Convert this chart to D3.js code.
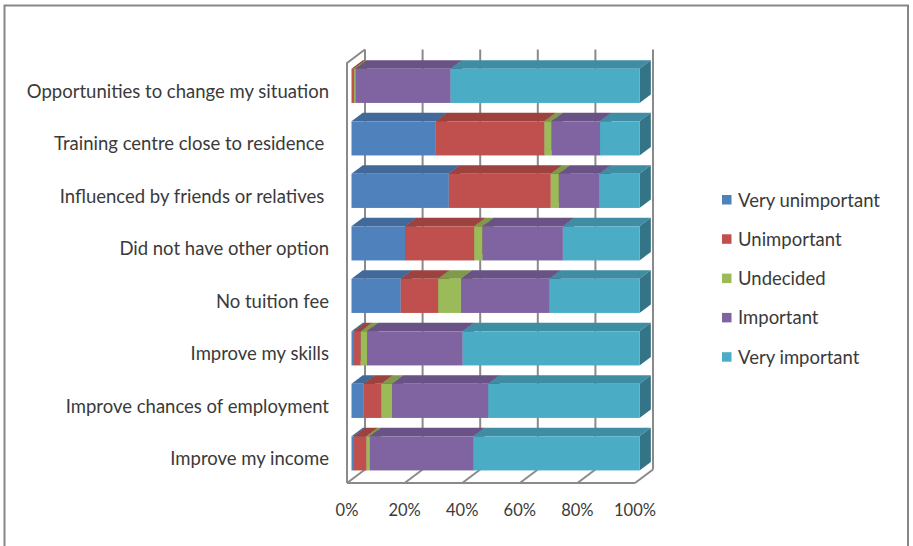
<!DOCTYPE html>
<html>
<head>
<meta charset="utf-8">
<script src="https://cdn.jsdelivr.net/npm/d3@7"></script>
<style>
  html, body { margin: 0; padding: 0; background: #fff; }
  svg { display: block; }
  text { font-family: Lato, "Open Sans", sans-serif; fill: #3a3a3a; }
</style>
</head>
<body>
<svg id="chart" width="913" height="546"></svg>
<script>
// Reasons for enrolling — share of responses per importance level (%)
const categories = [
  "Opportunities to change my situation",
  "Training centre close to residence ",
  "Influenced by friends or relatives ",
  "Did not have other option",
  "No tuition fee",
  "Improve my skills",
  "Improve chances of employment",
  "Improve my income"
];
const seriesNames = ["Very unimportant", "Unimportant", "Undecided", "Important", "Very important"];
const veryUnimportant = [0.0, 29.3, 33.8, 18.6, 17.1, 0.9, 4.3, 0.9];
const unimportant     = [0.9, 37.7, 35.4, 24.0, 13.0, 2.3, 6.1, 4.3];
const undecided       = [0.6,  2.5,  2.8,  2.9,  7.9, 2.2, 3.7, 1.2];
const important       = [32.9, 16.8, 14.1, 27.9, 30.7, 33.2, 33.4, 35.9];
const veryImportant   = [65.6, 13.7, 13.9, 26.6, 31.3, 61.4, 52.5, 57.7];
const tickLabels = ["0%", "20%", "40%", "60%", "80%", "100%"];
const tickValues = [0, 20, 40, 60, 80, 100];

const colors = ["#4F81BD", "#C0504D", "#9BBB59", "#8064A2", "#4BACC6"];

const rows = categories.map((c, i) => ({
  category: c,
  "Very unimportant": veryUnimportant[i],
  "Unimportant": unimportant[i],
  "Undecided": undecided[i],
  "Important": important[i],
  "Very important": veryImportant[i]
}));
const stacked = d3.stack().keys(seriesNames)(rows);

const svg = d3.select("#chart");

// Outer chart border
svg.append("rect")
  .attr("x", 4.5).attr("y", 5.5).attr("width", 903.5).attr("height", 560)
  .attr("fill", "none").attr("stroke", "#878787").attr("stroke-width", 2);

// Front plane of the 3D plot box, plus depth vector to the back wall
const front = { left: 347, right: 635, top: 63, bottom: 483 };
const depth = { dx: 18, dy: -13.5 };
const barDepthStart = 0.25, barDepthEnd = 0.88;

const x = d3.scaleLinear().domain([0, 100]).range([front.left, front.right]);
const y = d3.scaleBand().domain(categories)
  .range([front.top, front.bottom]).paddingInner(0.35).paddingOuter(0.175);

const gridColor = "#8a8a8a";
const grid = svg.append("g").attr("stroke", gridColor).attr("stroke-width", 2).attr("fill", "none");

// Back wall vertical gridlines
tickValues.forEach(v => {
  grid.append("line")
    .attr("x1", x(v) + depth.dx).attr("x2", x(v) + depth.dx)
    .attr("y1", front.top + depth.dy).attr("y2", front.bottom + depth.dy);
});
// Floor diagonals at each tick
tickValues.forEach(v => {
  grid.append("line")
    .attr("x1", x(v)).attr("y1", front.bottom)
    .attr("x2", x(v) + depth.dx).attr("y2", front.bottom + depth.dy);
});
// Floor front edge
grid.append("line")
  .attr("x1", x(0)).attr("x2", x(100))
  .attr("y1", front.bottom).attr("y2", front.bottom);
// Left wall outline
grid.append("path")
  .attr("d", `M${x(0)},${front.bottom} L${x(0)},${front.top} L${x(0) + depth.dx},${front.top + depth.dy}`);

// Bars: front face, top face, right face per stacked segment
const bars = svg.append("g");
const bh = y.bandwidth();
const ox = depth.dx * barDepthStart, oy = depth.dy * barDepthStart;
const bdx = depth.dx * (barDepthEnd - barDepthStart), bdy = depth.dy * (barDepthEnd - barDepthStart);

categories.forEach((cat, i) => {
  stacked.forEach((layer, k) => {
    const [v0, v1] = layer[i];
    if (v1 - v0 <= 0) return;
    const base = d3.color(colors[k]);
    const topCol = base.darker(0.55);
    const sideCol = base.darker(1.1);
    const xa = x(v0) + ox, xb = x(v1) + ox;
    const yt = y(cat) + oy, yb = y(cat) + oy + bh;
    const g = bars.append("g");
    g.append("path")
      .attr("d", `M${xa},${yt} L${xa + bdx},${yt + bdy} L${xb + bdx},${yt + bdy} L${xb},${yt} Z`)
      .attr("fill", topCol);
    g.append("path")
      .attr("d", `M${xb},${yt} L${xb + bdx},${yt + bdy} L${xb + bdx},${yb + bdy} L${xb},${yb} Z`)
      .attr("fill", sideCol);
    g.append("rect")
      .attr("x", xa).attr("y", yt).attr("width", xb - xa).attr("height", bh)
      .attr("fill", base);
  });
});

// Category labels
svg.append("g").selectAll("text")
  .data(categories).join("text")
  .attr("x", 329)
  .attr("y", d => y(d) + y.bandwidth() / 2 + 1.5)
  .attr("text-anchor", "end")
  .attr("dominant-baseline", "central")
  .attr("font-size", 18.5)
  .style("white-space", "pre")
  .text(d => d);

// Value axis labels
svg.append("g").selectAll("text")
  .data(tickValues).join("text")
  .attr("x", d => x(d))
  .attr("y", 510)
  .attr("text-anchor", "middle")
  .attr("dominant-baseline", "central")
  .attr("font-size", 16.5)
  .text((d, i) => tickLabels[i]);

// Legend
const legend = svg.append("g");
seriesNames.forEach((name, k) => {
  const cy = 199.5 + k * 39.3;
  legend.append("rect")
    .attr("x", 722).attr("y", cy - 4.5).attr("width", 9.5).attr("height", 9.5)
    .attr("fill", colors[k]);
  legend.append("text")
    .attr("x", 738).attr("y", cy)
    .attr("dominant-baseline", "central")
    .attr("font-size", 18.5)
    .text(name);
});
</script>
</body>
</html>
